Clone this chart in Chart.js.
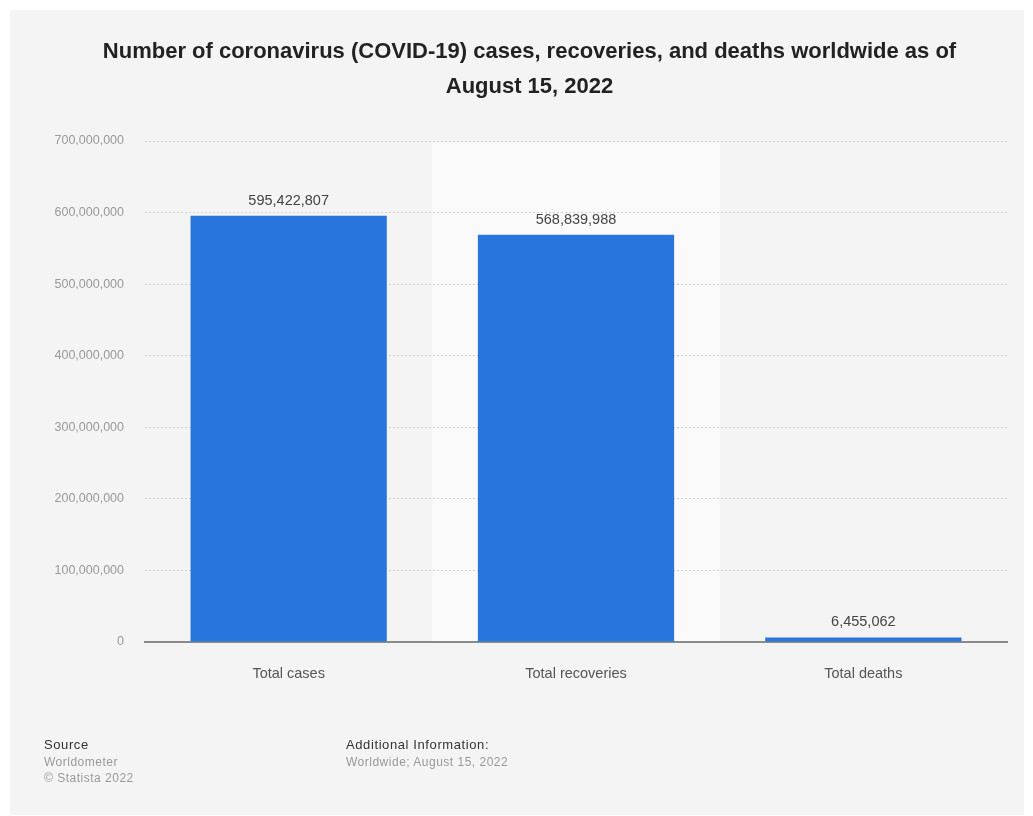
<!DOCTYPE html>
<html>
<head>
<meta charset="utf-8">
<script src="https://cdn.jsdelivr.net/npm/chart.js@4"></script>
<style>
  body { margin: 0; background: #fff; font-family: "Liberation Sans", Arial, sans-serif; }
  #card { position: absolute; left: 10px; top: 10px; width: 1014px; height: 805px; background: #f4f4f4; }
  #chart { position: absolute; left: 0; top: 0; }
  .foot { position: absolute; top: 727px; font-size: 12px; line-height: 16.5px; color: #999; letter-spacing: 0.5px; }
  .foot b { font-weight: normal; color: #333; font-size: 13px; letter-spacing: 0.6px; }
</style>
</head>
<body>
<div id="card">
  <canvas id="chart" width="1014" height="805"></canvas>
  <div class="foot" style="left:34px"><b>Source</b><br>Worldometer<br>© Statista 2022</div>
  <div class="foot" style="left:336px"><b>Additional Information:</b><br>Worldwide; August 15, 2022</div>
</div>
<script>
const categories = ['Total cases', 'Total recoveries', 'Total deaths'];
const values = [595422807, 568839988, 6455062];
const yTicks = [0, 100000000, 200000000, 300000000, 400000000, 500000000, 600000000, 700000000];
const titleLines = ['Number of coronavirus (COVID-19) cases, recoveries, and deaths worldwide as of', 'August 15, 2022'];

const fmt = v => v.toLocaleString('en-US');
const FONT = '"Liberation Sans", Arial, sans-serif';

// light band behind every second category
const bandPlugin = {
    id: 'band',
    beforeDraw(chart) {
        const { ctx, chartArea, scales: { x } } = chart;
        const step = x.getPixelForValue(1) - x.getPixelForValue(0);
        ctx.save();
        ctx.fillStyle = '#fafafa';
        categories.forEach((c, i) => {
            if (i % 2 === 1) {
                const cx = x.getPixelForValue(i);
                ctx.fillRect(cx - step / 2, chartArea.top, step, chartArea.bottom - chartArea.top);
            }
        });
        ctx.restore();
    }
};

// value labels on top of the bars
const labelPlugin = {
    id: 'barLabels',
    afterDatasetsDraw(chart) {
        const { ctx } = chart;
        const meta = chart.getDatasetMeta(0);
        ctx.save();
        ctx.font = '14.5px ' + FONT;
        ctx.fillStyle = '#444';
        ctx.textAlign = 'center';
        ctx.textBaseline = 'bottom';
        meta.data.forEach((bar, i) => {
            ctx.fillText(fmt(values[i]), bar.x, bar.y - 8);
        });
        ctx.restore();
    }
};

const ctx = document.getElementById('chart').getContext('2d');

new Chart(ctx, {
    type: 'bar',
    data: {
        labels: categories,
        datasets: [{
            data: values,
            backgroundColor: '#2876dd',
            borderWidth: 0,
            barPercentage: 0.683,
            categoryPercentage: 1
        }]
    },
    options: {
        responsive: false,
        animation: false,
        layout: { padding: { left: 42, right: 17, top: 0, bottom: 0 } },
        plugins: {
            legend: { display: false },
            tooltip: { enabled: false },
            title: {
                display: true,
                text: titleLines,
                color: '#222',
                font: { family: FONT, size: 22, weight: 'bold', lineHeight: 35 / 22 },
                padding: { top: 24.5, bottom: 36.5 }
            }
        },
        scales: {
            x: {
                grid: { display: false },
                border: { display: true, color: '#8a8a8a', width: 2 },
                ticks: {
                    color: '#555',
                    font: { family: FONT, size: 14.5 },
                    padding: 15
                },
                afterFit(scale) { scale.height = 173; }
            },
            y: {
                min: 0,
                max: 700000000,
                afterBuildTicks(scale) { scale.ticks = yTicks.map(v => ({ value: v })); },
                grid: { color: '#cfcfcf', lineWidth: 1, drawTicks: false },
                border: { display: false, dash: [2, 2] },
                ticks: {
                    color: '#999',
                    font: { family: FONT, size: 12.5 },
                    padding: 21,
                    callback: v => fmt(v)
                },
                afterFit(scale) { scale.width = 93; }
            }
        }
    },
    plugins: [bandPlugin, labelPlugin]
});
</script>
</body>
</html>
